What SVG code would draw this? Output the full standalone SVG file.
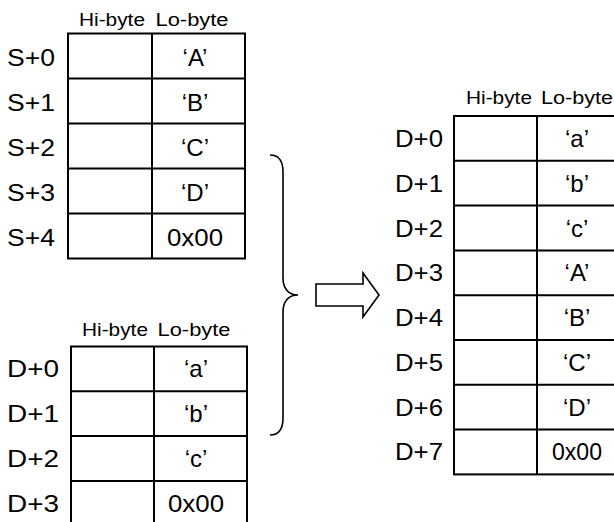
<svg xmlns="http://www.w3.org/2000/svg" width="614" height="522" viewBox="0 0 614 522">
<style>
.t{font-family:"Liberation Sans",Arial,sans-serif;fill:#000}
.h{font-size:18px;text-anchor:middle}
.l{font-size:23px}
.c{font-size:24px;text-anchor:middle}
.g line,.g rect{stroke:#000;stroke-width:2;fill:none}
.br{stroke:#000;stroke-width:1.6;fill:none}
.ar{stroke:#000;stroke-width:1.6;fill:#fff}
</style>
<g id="tableS" class="g">
<rect x="68" y="33.5" width="177" height="225"/>
<line x1="152" y1="33.5" x2="152" y2="258.5"/>
<line x1="68" y1="78.5" x2="245" y2="78.5"/>
<line x1="68" y1="123.5" x2="245" y2="123.5"/>
<line x1="68" y1="168.5" x2="245" y2="168.5"/>
<line x1="68" y1="213.5" x2="245" y2="213.5"/>
<text class="t h" x="112" y="26" textLength="66" lengthAdjust="spacingAndGlyphs">Hi-byte</text>
<text class="t h" x="192" y="26" textLength="73" lengthAdjust="spacingAndGlyphs">Lo-byte</text>
<text class="t l" x="7" y="66" textLength="48" lengthAdjust="spacingAndGlyphs">S+0</text>
<text class="t l" x="7" y="111" textLength="48" lengthAdjust="spacingAndGlyphs">S+1</text>
<text class="t l" x="7" y="156" textLength="48" lengthAdjust="spacingAndGlyphs">S+2</text>
<text class="t l" x="7" y="201" textLength="48" lengthAdjust="spacingAndGlyphs">S+3</text>
<text class="t l" x="7" y="246" textLength="48" lengthAdjust="spacingAndGlyphs">S+4</text>
<text class="t c" x="195" y="66">‘A’</text>
<text class="t c" x="195" y="111">‘B’</text>
<text class="t c" x="195" y="156">‘C’</text>
<text class="t c" x="195" y="201">‘D’</text>
<text class="t c" x="195" y="246" textLength="56" lengthAdjust="spacingAndGlyphs">0x00</text>
</g>
<g id="tableD" class="g">
<rect x="71" y="346.5" width="176" height="179.2"/>
<line x1="154" y1="346.5" x2="154" y2="525.7"/>
<line x1="71" y1="391.3" x2="247" y2="391.3"/>
<line x1="71" y1="436.1" x2="247" y2="436.1"/>
<line x1="71" y1="480.9" x2="247" y2="480.9"/>
<text class="t h" x="115" y="336" textLength="66" lengthAdjust="spacingAndGlyphs">Hi-byte</text>
<text class="t h" x="194" y="336" textLength="73" lengthAdjust="spacingAndGlyphs">Lo-byte</text>
<text class="t l" x="7" y="377" textLength="52" lengthAdjust="spacingAndGlyphs">D+0</text>
<text class="t l" x="7" y="422" textLength="52" lengthAdjust="spacingAndGlyphs">D+1</text>
<text class="t l" x="7" y="467" textLength="52" lengthAdjust="spacingAndGlyphs">D+2</text>
<text class="t l" x="7" y="512" textLength="52" lengthAdjust="spacingAndGlyphs">D+3</text>
<text class="t c" x="196" y="377">‘a’</text>
<text class="t c" x="196" y="422">‘b’</text>
<text class="t c" x="196" y="467">‘c’</text>
<text class="t c" x="196" y="512" textLength="56" lengthAdjust="spacingAndGlyphs">0x00</text>
</g>
<g id="tableR" class="g">
<rect x="454" y="116" width="162" height="358.4"/>
<line x1="537" y1="116" x2="537" y2="474.4"/>
<line x1="454" y1="160.8" x2="616" y2="160.8"/>
<line x1="454" y1="205.6" x2="616" y2="205.6"/>
<line x1="454" y1="250.4" x2="616" y2="250.4"/>
<line x1="454" y1="295.2" x2="616" y2="295.2"/>
<line x1="454" y1="340" x2="616" y2="340"/>
<line x1="454" y1="384.8" x2="616" y2="384.8"/>
<line x1="454" y1="429.6" x2="616" y2="429.6"/>
<text class="t h" x="499" y="104" textLength="66" lengthAdjust="spacingAndGlyphs">Hi-byte</text>
<text class="t h" x="577" y="104" textLength="72" lengthAdjust="spacingAndGlyphs">Lo-byte</text>
<text class="t l" x="395" y="147" textLength="48" lengthAdjust="spacingAndGlyphs">D+0</text>
<text class="t l" x="395" y="192" textLength="48" lengthAdjust="spacingAndGlyphs">D+1</text>
<text class="t l" x="395" y="237" textLength="48" lengthAdjust="spacingAndGlyphs">D+2</text>
<text class="t l" x="395" y="281" textLength="48" lengthAdjust="spacingAndGlyphs">D+3</text>
<text class="t l" x="395" y="326" textLength="48" lengthAdjust="spacingAndGlyphs">D+4</text>
<text class="t l" x="395" y="371" textLength="48" lengthAdjust="spacingAndGlyphs">D+5</text>
<text class="t l" x="395" y="416" textLength="48" lengthAdjust="spacingAndGlyphs">D+6</text>
<text class="t l" x="395" y="460" textLength="48" lengthAdjust="spacingAndGlyphs">D+7</text>
<text class="t c" x="577" y="147">‘a’</text>
<text class="t c" x="577" y="192">‘b’</text>
<text class="t c" x="577" y="237">‘c’</text>
<text class="t c" x="577" y="281">‘A’</text>
<text class="t c" x="577" y="326">‘B’</text>
<text class="t c" x="577" y="371">‘C’</text>
<text class="t c" x="577" y="416">‘D’</text>
<text class="t c" x="577" y="460" textLength="50" lengthAdjust="spacingAndGlyphs">0x00</text>
</g>
<g id="connectors">
<path class="br" d="M270,155 C280,155 283,162 283,172 L283,278 C283,288 288,295 298,295 C288,295 283,302 283,312 L283,418 C283,428 280,435 270,435"/>
<polygon class="ar" points="316,284 363,284 363,273 379,295 363,317 363,306 316,306"/>
</g>
</svg>
